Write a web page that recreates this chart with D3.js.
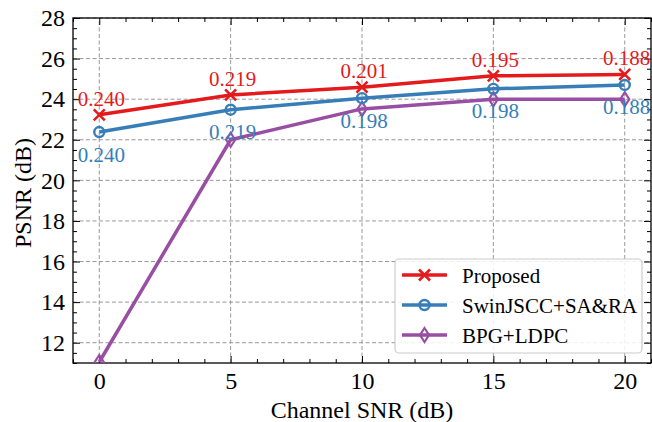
<!DOCTYPE html>
<html>
<head>
<meta charset="utf-8">
<script src="https://cdn.jsdelivr.net/npm/d3@7"></script>
</head>
<body style="margin:0;background:#fff">
<div id="chart"></div>
<script>
// chart data
const snr = [0, 5, 10, 15, 20];
const proposed = [23.23, 24.21, 24.59, 25.15, 25.22];
const swin = [22.38, 23.48, 24.05, 24.51, 24.70];
const bpg = [11.05, 22.0, 23.52, 24.0, 24.0];
const proposedLabels = ["0.240", "0.219", "0.201", "0.195", "0.188"];
const swinLabels = ["0.240", "0.219", "0.198", "0.198", "0.188"];
const seriesNames = ["Proposed", "SwinJSCC+SA&RA", "BPG+LDPC"];
const xTicks = [0, 5, 10, 15, 20];
const yTicks = [12, 14, 16, 18, 20, 22, 24, 26, 28];

const width = 652, height = 422;
const margin = {top: 18, right: 1, bottom: 59, left: 73};
const colors = ["#e41a1c", "#377eb8", "#984ea3"];
const serif = "font-family: 'Liberation Serif'";

const svg = d3.select("#chart").append("svg")
    .attr("width", width)
    .attr("height", height)
    .attr("font-family", "Liberation Serif");

const x = d3.scaleLinear().domain([-1, 21]).range([margin.left, width - margin.right]);
const y = d3.scaleLinear().domain([11, 28]).range([height - margin.bottom, margin.top]);

const x0 = margin.left, x1 = width - margin.right;
const y0 = height - margin.bottom, y1 = margin.top;

// grid
const grid = svg.append("g");
grid.selectAll("line.vg").data(xTicks).enter().append("line")
    .attr("x1", d => x(d)).attr("x2", d => x(d))
    .attr("y1", y0).attr("y2", y1)
    .attr("stroke", "#8c8c8c").attr("stroke-width", 0.9).attr("stroke-dasharray", "4,2.5");
grid.selectAll("line.hg").data(yTicks).enter().append("line")
    .attr("y1", d => y(d)).attr("y2", d => y(d))
    .attr("x1", x0).attr("x2", x1)
    .attr("stroke", "#8c8c8c").attr("stroke-width", 0.9).attr("stroke-dasharray", "4,2.5");

// inward ticks on all four sides
const minorX = d3.range(-1, 22, 1).filter(d => d % 5 !== 0);
const minorY = d3.range(11, 28.01, 0.5).filter(d => d % 2 !== 0);

svg.append("g").attr("transform", `translate(0,${y0})`)
    .call(d3.axisBottom(x).tickValues(xTicks).tickSizeInner(-7).tickSizeOuter(0).tickPadding(9).tickFormat(d3.format("d")));
svg.append("g").attr("transform", `translate(0,${y0})`)
    .call(d3.axisBottom(x).tickValues(minorX).tickSizeInner(-4).tickSizeOuter(0).tickFormat(""));
svg.append("g").attr("transform", `translate(0,${y1})`)
    .call(d3.axisTop(x).tickValues(xTicks).tickSizeInner(-7).tickSizeOuter(0).tickFormat(""));
svg.append("g").attr("transform", `translate(0,${y1})`)
    .call(d3.axisTop(x).tickValues(minorX).tickSizeInner(-4).tickSizeOuter(0).tickFormat(""));

svg.append("g").attr("transform", `translate(${x0},0)`)
    .call(d3.axisLeft(y).tickValues(yTicks).tickSizeInner(-7).tickSizeOuter(0).tickPadding(8).tickFormat(d3.format("d")));
svg.append("g").attr("transform", `translate(${x0},0)`)
    .call(d3.axisLeft(y).tickValues(minorY).tickSizeInner(-4).tickSizeOuter(0).tickFormat(""));
svg.append("g").attr("transform", `translate(${x1},0)`)
    .call(d3.axisRight(y).tickValues(yTicks).tickSizeInner(-7).tickSizeOuter(0).tickFormat(""));
svg.append("g").attr("transform", `translate(${x1},0)`)
    .call(d3.axisRight(y).tickValues(minorY).tickSizeInner(-4).tickSizeOuter(0).tickFormat(""));

svg.selectAll(".domain").remove();
svg.selectAll("g").attr("font-family", "Liberation Serif");
svg.selectAll(".tick line").attr("stroke", "#000").attr("stroke-width", 1);
svg.selectAll(".tick text").attr("fill", "#000")
    .attr("style", serif + "; font-size: 24px");

// frame
svg.append("rect")
    .attr("x", x0).attr("y", y1)
    .attr("width", x1 - x0).attr("height", y0 - y1)
    .attr("fill", "none").attr("stroke", "#000").attr("stroke-width", 1.3);

// axis titles
svg.append("text")
    .attr("x", (x0 + x1) / 2).attr("y", 418)
    .attr("text-anchor", "middle").attr("style", serif + "; font-size: 24px")
    .text("Channel SNR (dB)");
svg.append("text")
    .attr("transform", `translate(31,193) rotate(-90)`)
    .attr("text-anchor", "middle").attr("style", serif + "; font-size: 24px")
    .text("PSNR (dB)");

// lines and markers
const plot = svg.append("g");
const allSeries = [proposed, swin, bpg];
const line = d3.line().x((d, i) => x(snr[i])).y(d => y(d));

function drawMarker(g, kind, cx, cy, color) {
    if (kind === 0) {
        const s = 5.5;
        g.append("path")
            .attr("d", `M${cx - s},${cy - s}L${cx + s},${cy + s}M${cx - s},${cy + s}L${cx + s},${cy - s}`)
            .attr("stroke", color).attr("stroke-width", 2.6).attr("fill", "none");
    } else if (kind === 1) {
        g.append("circle").attr("cx", cx).attr("cy", cy).attr("r", 5)
            .attr("stroke", color).attr("stroke-width", 2.4).attr("fill", "none");
    } else {
        g.append("path")
            .attr("d", `M${cx},${cy - 7}L${cx + 4.5},${cy}L${cx},${cy + 7}L${cx - 4.5},${cy}Z`)
            .attr("stroke", color).attr("stroke-width", 2.2).attr("fill", "none");
    }
}

// clip so the bottom marker is cut at the frame like the reference
svg.append("clipPath").attr("id", "clip").append("rect")
    .attr("x", x0).attr("y", y1).attr("width", x1 - x0).attr("height", y0 - y1);
plot.attr("clip-path", "url(#clip)");

[2, 1, 0].forEach(k => {
    plot.append("path")
        .datum(allSeries[k])
        .attr("d", line)
        .attr("fill", "none")
        .attr("stroke", colors[k])
        .attr("stroke-width", 3.5)
        .attr("stroke-linejoin", "round");
});
[2, 1, 0].forEach(k => {
    allSeries[k].forEach((v, i) => drawMarker(plot, k, x(snr[i]), y(v), colors[k]));
});

// value labels
svg.append("g").selectAll("text").data(proposedLabels).enter().append("text")
    .attr("x", (d, i) => x(snr[i]) + 2)
    .attr("y", (d, i) => y(proposed[i]) - 9)
    .attr("text-anchor", "middle")
    .attr("fill", colors[0])
    .attr("style", serif + "; font-size: 21px")
    .text(d => d);
svg.append("g").selectAll("text").data(swinLabels).enter().append("text")
    .attr("x", (d, i) => x(snr[i]) + 2)
    .attr("y", (d, i) => y(swin[i]) + 29.5)
    .attr("text-anchor", "middle")
    .attr("fill", colors[1])
    .attr("style", serif + "; font-size: 21px")
    .text(d => d);

// legend
const lg = svg.append("g");
lg.append("rect")
    .attr("x", 395).attr("y", 259).attr("width", 247).attr("height", 94)
    .attr("rx", 4).attr("fill", "#fff").attr("fill-opacity", 0.85)
    .attr("stroke", "#cccccc").attr("stroke-width", 1.2);
seriesNames.forEach((name, k) => {
    const ly = 275 + k * 30;
    lg.append("line")
        .attr("x1", 402).attr("x2", 447).attr("y1", ly).attr("y2", ly)
        .attr("stroke", colors[k]).attr("stroke-width", 3.5);
    drawMarker(lg, k, 424.5, ly, colors[k]);
    lg.append("text")
        .attr("x", 462).attr("y", ly + 7.5)
        .attr("style", serif + "; font-size: 21px")
        .text(name);
});
</script>
</body>
</html>
